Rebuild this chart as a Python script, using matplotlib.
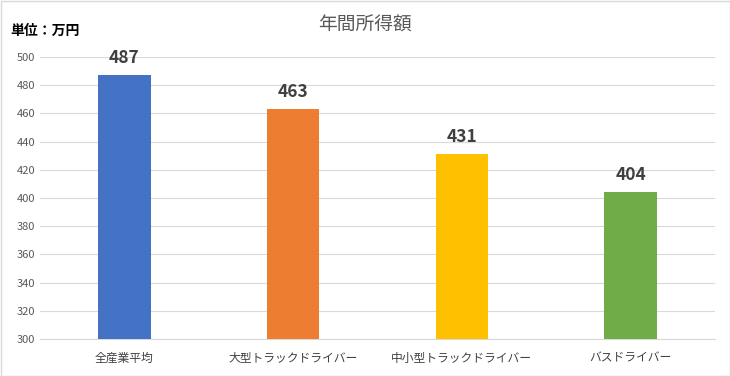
import matplotlib
matplotlib.use("Agg")
import matplotlib.pyplot as plt
from matplotlib.patches import Rectangle

plt.rcParams['font.family'] = ['Noto Sans CJK JP', 'DejaVu Sans']

categories = ["全産業平均", "大型トラックドライバー", "中小型トラックドライバー", "バスドライバー"]
values = [487, 463, 431, 404]
colors = ["#4472C4", "#ED7D31", "#FFC000", "#70AD47"]
yticks = [300, 320, 340, 360, 380, 400, 420, 440, 460, 480, 500]

fig = plt.figure(figsize=(7.3, 3.76), dpi=100)
ax = fig.add_axes([40/730, 1-339/376, 675/730, 282/376])

x = list(range(len(categories)))
ax.bar(x, values, width=0.31, color=colors, zorder=3)
ax.set_xlim(-0.5, 3.5)
ax.set_ylim(300, 500)
ax.set_yticks(yticks)
ax.grid(axis='y', color='#D9D9D9', linewidth=0.8, zorder=0)
for s in ax.spines.values():
    s.set_visible(False)
ax.spines['bottom'].set_visible(True)
ax.spines['bottom'].set_color('#D9D9D9')
ax.tick_params(axis='both', length=0, colors='#595959', labelsize=8)
ax.tick_params(axis='x', pad=9, labelsize=8.5)
ax.set_xticks(x)
ax.set_xticklabels(categories, color='#404040')

for xi, v in zip(x, values):
    ax.annotate(str(v), (xi, v), xytext=(0, 6), textcoords='offset points',
                ha='center', va='bottom', fontsize=12.5, fontweight='bold', color='#404040')

fig.text(0.5, 1-25/376, "年間所得額", ha='center', va='center', fontsize=13.5, color='#595959')
fig.text(10/730, 1-31/376, "単位：万円", ha='left', va='center', fontsize=10, fontweight='bold', color='#000000')

fig.add_artist(Rectangle((0.5/730, 0.5/376), 1-1/730, 1-1/376, transform=fig.transFigure,
                         fill=False, edgecolor='#D9D9D9', linewidth=1))

fig.savefig("out.png", dpi=100, facecolor='white')
